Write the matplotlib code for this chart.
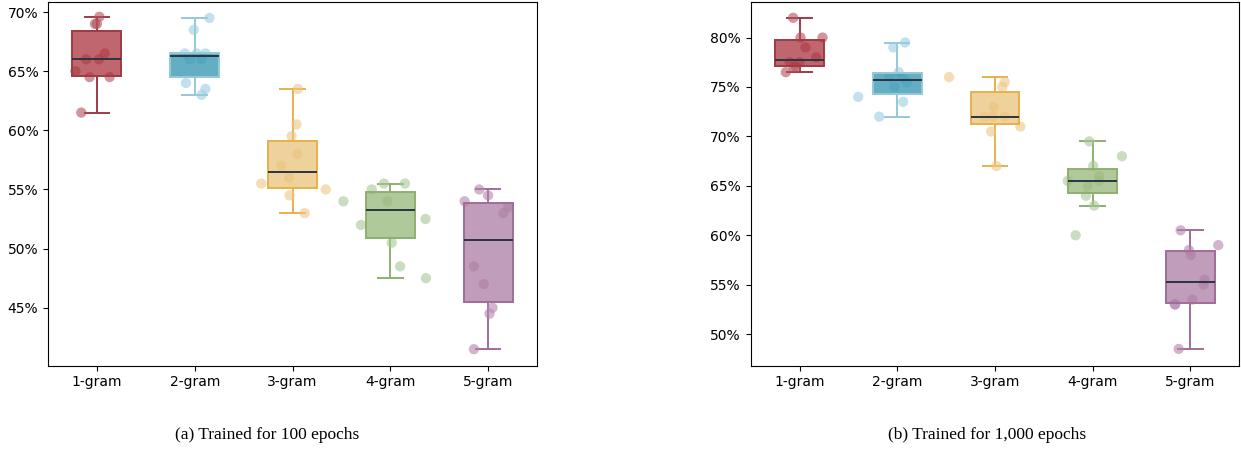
import matplotlib
matplotlib.use("Agg")
import matplotlib.pyplot as plt
from matplotlib.colors import to_rgba
from matplotlib.ticker import PercentFormatter

labels = ["1-gram", "2-gram", "3-gram", "4-gram", "5-gram"]

# accuracy (%) per run
acc_100 = [
    [69.6, 69.0, 69.0, 66.5, 66.0, 66.0, 65.0, 64.5, 64.5, 61.5],
    [69.5, 68.5, 66.5, 66.5, 66.5, 66.0, 66.0, 64.0, 63.5, 63.0],
    [63.5, 60.5, 59.5, 58.0, 57.0, 56.0, 55.5, 55.0, 54.5, 53.0],
    [55.5, 55.5, 55.0, 54.0, 54.0, 52.5, 52.0, 50.5, 48.5, 47.5],
    [55.0, 54.5, 54.0, 53.5, 53.0, 48.5, 47.0, 45.0, 44.5, 41.5],
]
acc_1000 = [
    [82.0, 80.0, 80.0, 79.0, 78.0, 77.5, 77.5, 77.0, 77.0, 76.5],
    [79.5, 79.0, 76.5, 76.0, 76.0, 75.5, 75.0, 74.0, 73.5, 72.0],
    [76.0, 75.5, 75.0, 73.0, 72.0, 72.0, 72.0, 71.0, 70.5, 67.0],
    [69.5, 68.0, 67.0, 66.0, 65.5, 65.5, 65.0, 64.0, 63.0, 60.0],
    [60.5, 59.0, 58.5, 58.0, 55.5, 55.0, 53.5, 53.0, 53.0, 48.5],
]

# horizontal jitter of each dot (category units)
jit_100 = [
    [0.025, -0.02, 0.0, 0.08, -0.11, 0.02, -0.22, -0.075, 0.13, -0.16],
    [0.15, -0.01, -0.10, 0.11, 0.02, -0.05, 0.07, -0.09, 0.11, 0.07],
    [0.055, 0.04, -0.01, 0.05, -0.115, -0.035, -0.32, 0.34, -0.03, 0.125],
    [-0.065, 0.15, -0.19, -0.48, -0.03, 0.36, -0.30, 0.015, 0.10, 0.365],
    [-0.09, 0.0, -0.24, 0.205, 0.155, -0.145, -0.045, 0.045, 0.015, -0.145],
]
jit_1000 = [
    [-0.065, 0.01, 0.235, 0.06, 0.17, -0.10, 0.0, -0.035, -0.06, -0.14],
    [0.08, -0.04, 0.015, 0.05, -0.08, 0.10, -0.03, -0.40, 0.06, -0.185],
    [-0.47, 0.10, 0.075, -0.015, -0.105, 0.10, -0.02, 0.26, -0.04, 0.015],
    [-0.035, 0.30, 0.005, 0.065, -0.255, 0.065, -0.05, -0.07, 0.015, -0.175],
    [-0.10, 0.285, -0.015, 0.005, 0.145, 0.135, 0.02, -0.16, -0.155, -0.12],
]

faces = ["#ab333f", "#3093b0", "#eac37a", "#96b77a", "#ab7da3"]
edges = ["#a03a45", "#94c9d9", "#e6b14c", "#8db070", "#a06c99"]
dots = ["#b2505b", "#9ccde0", "#eec684", "#a9c796", "#b585ac"]


def draw(ax, data, jit, ylim, yticks):
    pos = list(range(len(labels)))
    bp = ax.boxplot(data, positions=pos, widths=0.5, patch_artist=True,
                    showfliers=False, zorder=3)
    for i in range(len(labels)):
        bp["boxes"][i].set_facecolor(to_rgba(faces[i], 0.75))
        bp["boxes"][i].set_edgecolor(edges[i])
        bp["boxes"][i].set_linewidth(1.4)
        bp["medians"][i].set(color="#2b3440", linewidth=1.4, zorder=4)
        for k in (2 * i, 2 * i + 1):
            bp["whiskers"][k].set(color=edges[i], linewidth=1.4, zorder=1)
            bp["caps"][k].set(color=edges[i], linewidth=1.4, zorder=1)
        xs = [i + j for j in jit[i]]
        ax.scatter(xs, data[i], s=55, color=dots[i], alpha=0.6,
                   edgecolors="none", zorder=2)
    ax.set_xticks(pos)
    ax.set_xticklabels(labels, fontsize=10)
    ax.set_xlim(-0.5, 4.5)
    ax.set_ylim(*ylim)
    ax.set_yticks(yticks)
    ax.yaxis.set_major_formatter(PercentFormatter(decimals=0))
    ax.tick_params(labelsize=10)


fig = plt.figure(figsize=(12.41, 4.5), dpi=100)
ax1 = fig.add_axes([0.0387, 0.1873, 0.394, 0.8083])
ax2 = fig.add_axes([0.6049, 0.1873, 0.3937, 0.8083])

draw(ax1, acc_100, jit_100, (40.1, 70.85), [45, 50, 55, 60, 65, 70])
draw(ax2, acc_1000, jit_1000, (46.8, 83.6), [50, 55, 60, 65, 70, 75, 80])

fig.text(267 / 1241, 0.025, "(a) Trained for 100 epochs", ha="center",
         fontsize=12.5, family="Liberation Serif")
fig.text(987 / 1241, 0.025, "(b) Trained for 1,000 epochs", ha="center",
         fontsize=12.5, family="Liberation Serif")

fig.savefig("out.png", dpi=100)
